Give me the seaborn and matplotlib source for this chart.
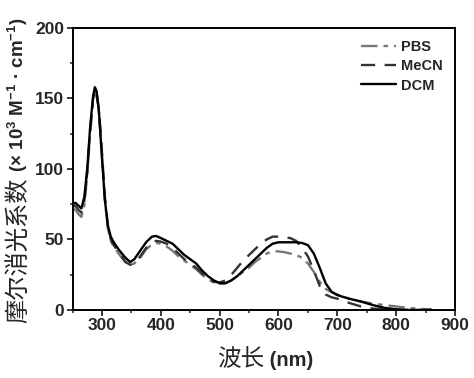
import numpy as np
import pandas as pd
import matplotlib
matplotlib.use("Agg")
import matplotlib.pyplot as plt
import seaborn as sns
from matplotlib.ticker import MultipleLocator

wavelength = [250, 255, 260, 265, 270, 275, 280, 285, 288, 291, 295, 300, 305, 310, 315, 320,
              330, 340, 348, 355, 365, 375, 385, 392, 400, 410, 420, 430, 440, 450, 460, 470,
              480, 490, 500, 510, 520, 530, 540, 550, 560, 570, 580, 590, 600, 610, 620, 630,
              640, 650, 660, 670, 680, 690, 700, 720, 740, 760, 780, 800, 820, 840, 860]

dcm = [75, 76, 74, 72, 80, 100, 130, 152, 158, 155, 140, 108, 78, 60, 52, 48,
       42, 37, 34, 36, 42, 48, 52, 52.5, 51, 49, 47, 43, 39, 36, 33, 28,
       24, 21, 19, 19, 21, 24, 28, 32, 36, 40, 44, 47, 48, 48, 48, 48,
       47.5, 46, 40, 30, 19, 13, 10.5, 8, 6, 3.5, 1.5, 0.5, 0, 0, 0]

mecn = [73, 74, 71, 69, 77, 98, 128, 150, 156, 154, 142, 112, 80, 60, 50, 46,
        40, 34, 32, 33, 38, 44, 48, 49, 48.5, 47, 44, 40, 36, 33, 30, 26,
        22, 20, 19.5, 21, 25, 30, 35, 39, 43, 47, 50, 52, 52, 51.5, 51, 49,
        44, 38, 28, 17, 11, 9, 8, 5, 2.5, 1, 0.3, 0, 0, 0, 0]

pbs = [72, 71, 68, 66, 74, 95, 125, 147, 154, 152, 140, 110, 78, 58, 49, 45,
       39, 34, 32, 33, 37, 43, 46.5, 47.5, 47, 45, 42, 38, 35, 32, 29, 25,
       22, 19.5, 18.5, 19, 21, 24, 27, 30, 34, 37, 40, 41.5, 41.5, 41, 40, 39,
       37, 33, 27, 20, 15, 12.5, 11, 8, 6, 4.5, 3.5, 2.5, 1.5, 0.8, 0.3]

series_names = ["PBS", "MeCN", "DCM"]
series_values = [pbs, mecn, dcm]
series_colors = ["#777777", "#333333", "#000000"]
series_dashes = [(7, 2.5, 2, 2.5), (6, 4), ()]

x_ticks = [300, 400, 500, 600, 700, 800, 900]
y_ticks = [0, 50, 100, 150, 200]

xlabel_cn, xlabel_en = "波长", " (nm)"
ylabel_cn, ylabel_en = "摩尔消光系数", " (× 10$^{3}$ M$^{-1}$ · cm$^{-1}$)"

sns.set_style("ticks")
plt.rcParams['font.family'] = ['Liberation Sans', 'Noto Sans CJK SC', 'DejaVu Sans']
plt.rcParams['font.weight'] = 'bold'
plt.rcParams['mathtext.fontset'] = 'custom'
plt.rcParams['mathtext.rm'] = 'Liberation Sans:bold'
plt.rcParams['mathtext.it'] = 'Liberation Sans:bold'
plt.rcParams['mathtext.bf'] = 'Liberation Sans:bold'
plt.rcParams['mathtext.default'] = 'rm'

W, H = 474, 378
fig = plt.figure(figsize=(W / 100, H / 100), dpi=100)
ax = fig.add_axes([0.153, 0.180, 0.807, 0.746])

for name, vals, col, dsh in zip(series_names, series_values, series_colors, series_dashes):
    df = pd.DataFrame({"wl": wavelength, "eps": vals})
    sns.lineplot(data=df, x="wl", y="eps", ax=ax, color=col, lw=1.7, label=name)
    l = ax.lines[-1]
    if dsh:
        l.set_dashes(dsh)

ax.set_xlim(250, 900)
ax.set_ylim(0, 200)
ax.set_xticks(x_ticks)
ax.set_yticks(y_ticks)
ax.xaxis.set_minor_locator(MultipleLocator(50))
ax.yaxis.set_minor_locator(MultipleLocator(25))
ax.tick_params(axis='both', which='major', direction='out', length=4, width=1.3, labelsize=12.5, pad=2)
ax.tick_params(axis='both', which='minor', direction='out', length=2.5, width=1.1)
for lab in ax.get_xticklabels() + ax.get_yticklabels():
    lab.set_fontweight('bold')
for s in ax.spines.values():
    s.set_linewidth(1.4)
    s.set_color('black')
ax.set_xlabel("")
ax.set_ylabel("")

leg = ax.legend(loc='upper right', frameon=False, fontsize=10.5, handlelength=2.4,
                handletextpad=0.35, labelspacing=0.35, borderaxespad=0.45)
for t in leg.get_texts():
    t.set_fontweight('bold')

# composite axis labels: Chinese regular + Latin bold
renderer = fig.canvas.get_renderer()
cn_kw = dict(family=['Noto Sans CJK SC'], fontweight='normal')
en_kw = dict(family=['Liberation Sans'], fontweight='bold')

# x label
tx1 = fig.text(0, 0, xlabel_cn, fontsize=17, ha='left', va='baseline', **cn_kw)
tx2 = fig.text(0, 0, xlabel_en, fontsize=14.5, ha='left', va='baseline', **en_kw)
w1 = tx1.get_window_extent(renderer).width
w2 = tx2.get_window_extent(renderer).width
cx = 265.0
x0 = cx - (w1 + w2) / 2
yb = (H - 366) / H
tx1.set_position((x0 / W, yb))
tx2.set_position(((x0 + w1) / W, yb))

# y label
ty1 = fig.text(0, 0, ylabel_cn, fontsize=17.5, rotation=90, rotation_mode='anchor',
               ha='left', va='center', **cn_kw)
ty2 = fig.text(0, 0, ylabel_en, fontsize=13.5, rotation=90, rotation_mode='anchor',
               ha='left', va='center', **en_kw)
h1 = ty1.get_window_extent(renderer).height
h2 = ty2.get_window_extent(renderer).height
cy = H - 170.0
y0 = cy - (h1 + h2) / 2
xc = 18.0 / W
ty1.set_position((xc, y0 / H))
ty2.set_position((xc, (y0 + h1) / H))

fig.savefig("out.png", dpi=100)
